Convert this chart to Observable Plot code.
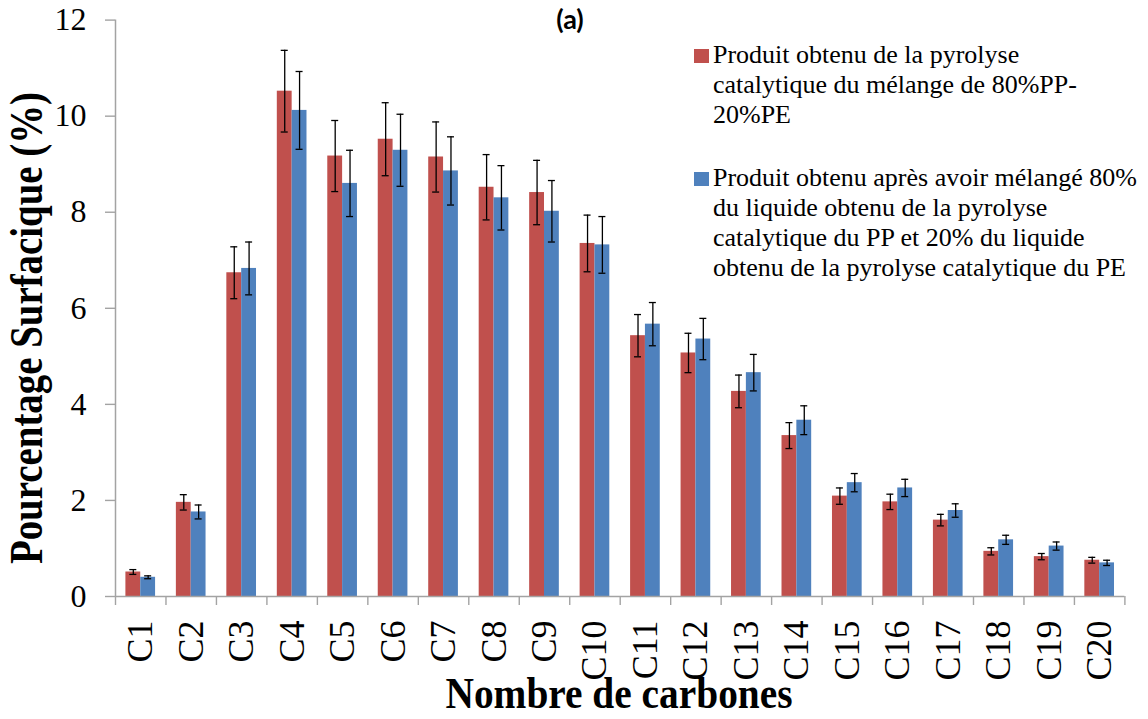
<!DOCTYPE html>
<html>
<head>
<meta charset="utf-8">
<script src="https://cdn.jsdelivr.net/npm/d3@7"></script>
<script src="https://cdn.jsdelivr.net/npm/@observablehq/plot@0.6"></script>
<style>
  html, body { margin: 0; padding: 0; background: #fff; overflow: hidden; }
  #wrap { position: relative; width: 1148px; height: 719px; overflow: hidden; }
  #wrap svg { position: absolute; left: 0; top: 0; }
  .serif { font-family: "Liberation Serif", "Times New Roman", serif; color: #000; }
  .ylab, .xlab, .title { position: absolute; white-space: nowrap; }
  .ylab { font-weight: bold; font-size: 46px; line-height: 46px; left: 27px; top: 328px;
          transform: translate(-50%, -50%) rotate(-90deg) scaleX(0.845); }
  .xlab { font-weight: bold; font-size: 44px; line-height: 40px; left: 619px; top: 674px;
          transform: translateX(-50%) scaleX(0.895); }
  .title { font-family: Lato, "Open Sans", sans-serif; font-weight: bold; font-size: 27px;
           line-height: 27px; left: 570px; top: 5px; transform: translateX(-50%); }
</style>
</head>
<body>
<div id="wrap"></div>
<script>
// Carbon-number categories
const categories = ["C1","C2","C3","C4","C5","C6","C7","C8","C9","C10",
                    "C11","C12","C13","C14","C15","C16","C17","C18","C19","C20"];

// Catalytic pyrolysis of the 80%PP-20%PE blend (surface %, and error)
const blendValues = [0.51, 1.96, 6.74, 10.52, 9.17, 9.52, 9.15, 8.52, 8.41, 7.35,
                     5.43, 5.07, 4.27, 3.35, 2.09, 1.97, 1.59, 0.94, 0.83, 0.755];
const blendErrors = [0.05, 0.16, 0.54, 0.85, 0.74, 0.76, 0.73, 0.68, 0.67, 0.59,
                     0.44, 0.41, 0.34, 0.27, 0.17, 0.16, 0.12, 0.075, 0.065, 0.06];

// 80% PP liquid mixed with 20% PE liquid (surface %, and error)
const mixValues = [0.40, 1.76, 6.83, 10.12, 8.60, 9.29, 8.86, 8.30, 8.02, 7.32,
                   5.67, 5.36, 4.66, 3.67, 2.37, 2.26, 1.79, 1.18, 1.05, 0.70];
const mixErrors = [0.03, 0.145, 0.55, 0.81, 0.69, 0.75, 0.71, 0.67, 0.64, 0.59,
                   0.45, 0.43, 0.38, 0.30, 0.19, 0.18, 0.14, 0.095, 0.085, 0.055];

const yTicks = [0, 2, 4, 6, 8, 10, 12];

const seriesNames = [
  ["Produit obtenu de la pyrolyse", "catalytique du mélange de 80%PP-", "20%PE"],
  ["Produit obtenu après avoir mélangé 80%", "du liquide obtenu de la pyrolyse",
   "catalytique du PP et 20% du liquide", "obtenu de la pyrolyse catalytique du PE"]
];
const seriesColors = ["#C0504D", "#4F81BD"];

const panelTitle = "(a)";
const yTitle = "Pourcentage Surfacique (%)";
const xTitle = "Nombre de carbones";

// Layout
const W = 1148, H = 719;
const ML = 115, MR = 23.6, MT = 19.6, MB = 123;
const PAD = 0.412;                       // gap between groups
const step = (W - ML - MR) / categories.length;
const bw = step * (1 - PAD);             // width of a two-bar group
const CAP = 7;                           // error-bar cap width
const GRAY = "#a3a3a3";
const SERIF = '"Liberation Serif", "Times New Roman", serif';

const rows = categories.map((c, i) => ({
  c,
  a: blendValues[i], ae: blendErrors[i],
  b: mixValues[i],   be: mixErrors[i]
}));

const errStyle = {stroke: "#000", strokeWidth: 1.3};
const capInset = (bw - CAP) / 2;

const chart = Plot.plot({
  width: W, height: H,
  marginLeft: ML, marginRight: MR, marginTop: MT, marginBottom: MB,
  style: {fontFamily: SERIF, color: "#000", background: "transparent", overflow: "visible"},
  x: {type: "band", domain: categories, paddingInner: PAD, paddingOuter: PAD / 2, round: false},
  y: {domain: [0, 12]},
  marks: [
    // bars
    Plot.barY(rows, {x: "c", y: "a", fill: seriesColors[0], insetRight: bw / 2}),
    Plot.barY(rows, {x: "c", y: "b", fill: seriesColors[1], insetLeft: bw / 2}),
    // error bars
    Plot.ruleX(rows, {x: "c", y1: d => d.a - d.ae, y2: d => d.a + d.ae, dx: -bw / 4, ...errStyle}),
    Plot.tickY(rows, {x: "c", y: d => d.a + d.ae, dx: -bw / 4, insetLeft: capInset, insetRight: capInset, ...errStyle}),
    Plot.tickY(rows, {x: "c", y: d => d.a - d.ae, dx: -bw / 4, insetLeft: capInset, insetRight: capInset, ...errStyle}),
    Plot.ruleX(rows, {x: "c", y1: d => d.b - d.be, y2: d => d.b + d.be, dx: bw / 4, ...errStyle}),
    Plot.tickY(rows, {x: "c", y: d => d.b + d.be, dx: bw / 4, insetLeft: capInset, insetRight: capInset, ...errStyle}),
    Plot.tickY(rows, {x: "c", y: d => d.b - d.be, dx: bw / 4, insetLeft: capInset, insetRight: capInset, ...errStyle}),
    // axis lines
    Plot.ruleY([0], {stroke: GRAY, strokeWidth: 1.5}),
    Plot.ruleX([categories[0]], {dx: -step / 2, y1: 0, y2: 12, stroke: GRAY, strokeWidth: 1.5}),
    // y axis ticks and labels
    Plot.axisY(yTicks, {tickSize: 10, tickPadding: 19, stroke: GRAY, strokeWidth: 1.4,
                        fill: "#000", fontSize: 32, fontFamily: SERIF, label: null, tickFormat: d => String(d)}),
    // x ticks on the category boundaries
    Plot.axisX(categories, {tickSize: 9, dx: -step / 2, stroke: GRAY, strokeWidth: 1.4,
                            tickFormat: () => "", label: null}),
    Plot.axisX([categories[categories.length - 1]], {tickSize: 9, dx: step / 2, stroke: GRAY, strokeWidth: 1.4,
                            tickFormat: () => "", label: null}),
    // category labels
    Plot.axisX(categories, {tickSize: 0, tickPadding: 24, tickRotate: -90, fill: "#000",
                            fontSize: 36, fontFamily: SERIF, label: null, ariaLabel: "carbon-labels"})
  ]
});

const wrap = document.getElementById("wrap");
wrap.appendChild(chart);

// condense the rotated category labels along the reading direction
d3.select(chart).selectAll('g[aria-label="carbon-labels"] text, g[aria-label="x-axis tick label"] text')
  .each(function () {
    const t = this.getAttribute("transform") || "";
    if (/rotate/.test(t)) this.setAttribute("transform", t + " scale(0.84,1)");
  });

// axis titles and panel title
const addDiv = (cls, text) => {
  const el = document.createElement("div");
  el.className = cls;
  el.textContent = text;
  wrap.appendChild(el);
  return el;
};
addDiv("ylab serif", yTitle);
addDiv("xlab serif", xTitle);
addDiv("title", panelTitle);

// legend: one swatch per series, one text line per row
const legendX = 694, itemBaselines = [63, 186], lineStep = 30, swatch = 15;
const lg = d3.select(chart).append("g").attr("class", "legend").attr("text-anchor", "start");
seriesNames.forEach((lines, i) => {
  lg.append("rect")
    .attr("x", legendX).attr("y", itemBaselines[i] - 14)
    .attr("width", swatch).attr("height", 14)
    .attr("fill", seriesColors[i]);
  lines.forEach((l, j) => {
    lg.append("text")
      .attr("x", legendX + 19).attr("y", itemBaselines[i] + j * lineStep)
      .style("font-family", SERIF).style("font-size", "26px").style("font-weight", "normal")
      .style("fill", "#000")
      .text(l);
  });
});
</script>
</body>
</html>
